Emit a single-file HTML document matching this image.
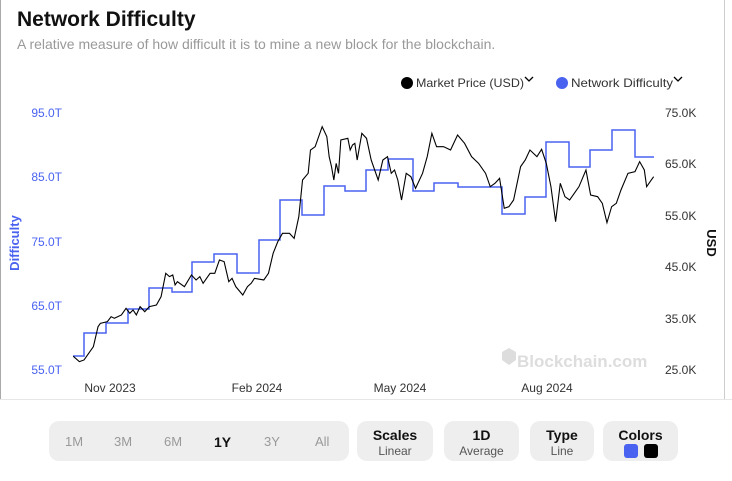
<!DOCTYPE html>
<html><head><style>
body{margin:0;width:732px;height:481px;background:#fff;font-family:"Liberation Sans",sans-serif;position:relative;overflow:hidden}
.a{position:absolute}
.t{left:17px;top:8px;font-size:21px;font-weight:bold;color:#111}
.s{left:17px;top:36px;font-size:14px;color:#999}
.btn{position:absolute;top:421px;height:40px;background:#eee;border-radius:10px;text-align:center}
.btn b{display:block;font-size:14px;color:#111;margin-top:6px}
.btn span{display:block;font-size:12px;color:#555;margin-top:1px}
.r{position:absolute;top:13px;font-size:13px;color:#999}
</style></head><body>
<div class="a" style="left:0;top:0;width:1px;height:400px;background:#aaa"></div>
<div class="a" style="left:724px;top:0;width:1px;height:400px;background:#ccc"></div>
<div class="a" style="left:0;top:399px;width:732px;height:1px;background:#e6e6e6"></div>
<div class="a t">Network Difficulty</div>
<div class="a s">A relative measure of how difficult it is to mine a new block for the blockchain.</div>
<svg class="a" style="left:0;top:0" width="732" height="400">
<g font-size="12" fill="#333">
<circle cx="407" cy="83" r="6" fill="#000"/><text x="416" y="87" textLength="108" lengthAdjust="spacingAndGlyphs">Market Price (USD)</text>
<path d="M525 77l4 4 4-4" stroke="#000" fill="none" stroke-width="1.3"/>
<circle cx="562" cy="83" r="6" fill="#4a62f0"/><text x="571" y="87" textLength="102" lengthAdjust="spacingAndGlyphs">Network Difficulty</text>
<path d="M674 77l4 4 4-4" stroke="#000" fill="none" stroke-width="1.3"/>
</g>
<g font-size="12" fill="#4a62f0" text-anchor="end">
<text x="62" y="117">95.0T</text><text x="62" y="181">85.0T</text><text x="62" y="246">75.0T</text><text x="62" y="310">65.0T</text><text x="62" y="374">55.0T</text>
</g>
<text transform="translate(19,243) rotate(-90)" text-anchor="middle" font-size="13" font-weight="bold" fill="#4a62f0">Difficulty</text>
<g font-size="12" fill="#333">
<text x="665" y="117">75.0K</text><text x="665" y="168">65.0K</text><text x="665" y="220">55.0K</text><text x="665" y="271">45.0K</text><text x="665" y="323">35.0K</text><text x="665" y="374">25.0K</text>
<text x="110" y="392" text-anchor="middle">Nov 2023</text><text x="257" y="392" text-anchor="middle">Feb 2024</text><text x="400" y="392" text-anchor="middle">May 2024</text><text x="547" y="392" text-anchor="middle">Aug 2024</text>
</g>
<text transform="translate(707,243) rotate(90)" text-anchor="middle" font-size="13" font-weight="bold" fill="#111">USD</text>
<text x="517" y="367" font-size="17" font-weight="bold" fill="#ddd">Blockchain.com</text>
<path d="M502 352l7-4 7 4v8l-7 5-7-5z" fill="#ddd"/>
<path fill="none" stroke="#4a62f0" stroke-width="1.5" d="M73 356H84V333H106V323H128V309H149V288H172V292H192V262H214V254H237V273H259V240H280V200H302V215H324V186H345V191H366V170H388V159H413V191H434V183H458V187H502V214H525V197H546V142H569V167H590V150H612V130H635V157H654"/>
<g transform="translate(0,60) scale(0.4669,0.3333)">
<path fill="none" stroke="#000" stroke-width="1.1" vector-effect="non-scaling-stroke" d="M157 889L170 905 180 900 190 880 200 860 210 800 215 790 230 785 238 770 245 775 260 765 270 745 278 760 285 750 292 765 300 740 310 755 320 740 335 735 345 710 355 640 363 650 370 645 375 675 380 665 395 680 410 645 420 660 428 650 435 670 450 640 460 640 470 600 480 605 490 665 497 655 505 680 520 705 530 680 538 670 545 655 565 660 575 640 585 580 595 545 605 520 620 520 630 535 640 470 648 360 660 340 665 270 675 260 690 200 700 230 705 290 710 320 715 360 720 310 725 340 730 240 745 235 750 270 755 255 760 250 765 300 775 220 785 235 795 300 800 320 810 360 820 300 830 290 838 340 845 330 852 360 860 420 870 340 880 350 890 385 905 340 915 290 925 220 935 260 950 260 965 270 980 225 995 250 1010 290 1025 310 1040 340 1050 380 1060 370 1070 355 1080 445 1090 440 1100 420 1115 320 1125 300 1135 270 1150 290 1160 268 1170 310 1180 380 1190 485 1200 370 1210 410 1220 420 1230 400 1240 380 1255 330 1265 405 1280 410 1290 430 1300 488 1310 440 1320 430 1330 390 1345 340 1360 335 1370 305 1380 330 1385 380 1395 360 1400 350"/>
</g>
</svg>
<div class="btn" style="left:49px;width:300px;font-size:13px;color:#999">
<span class="r" style="left:16px;margin:0;font-size:13px;color:#999">1M</span>
<span class="r" style="left:65px;margin:0;font-size:13px;color:#999">3M</span>
<span class="r" style="left:115px;margin:0;font-size:13px;color:#999">6M</span>
<span class="r" style="left:165px;margin:0;font-size:14px;color:#111;font-weight:bold">1Y</span>
<span class="r" style="left:215px;margin:0;font-size:13px;color:#999">3Y</span>
<span class="r" style="left:266px;margin:0;font-size:13px;color:#999">All</span>
</div>
<div class="btn" style="left:357px;width:76px"><b>Scales</b><span>Linear</span></div>
<div class="btn" style="left:444px;width:75px"><b>1D</b><span>Average</span></div>
<div class="btn" style="left:530px;width:64px"><b>Type</b><span>Line</span></div>
<div class="btn" style="left:603px;width:75px"><b>Colors</b>
<div class="a" style="left:21px;top:23px;width:14px;height:14px;background:#4a62f0;border-radius:3px"></div>
<div class="a" style="left:41px;top:23px;width:14px;height:14px;background:#000;border-radius:3px"></div></div>
</body></html>
